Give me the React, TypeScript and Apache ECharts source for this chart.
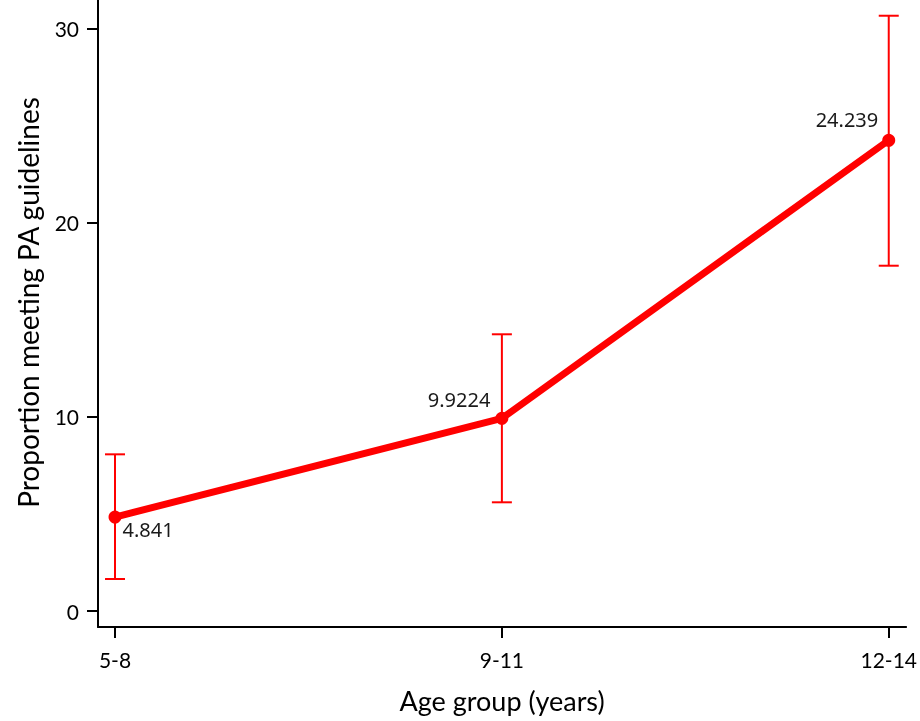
import React, { useEffect, useRef } from "react";
import * as echarts from "echarts";

const categories = ["5-8", "9-11", "12-14"];
const means = [4.841, 9.9224, 24.239];
const lowerCI = [1.65, 5.6, 17.78];
const upperCI = [8.07, 14.25, 30.65];
const yTicks = [0, 10, 20, 30];
const labelTexts = ["4.841", "9.9224", "24.239"];

const RED = "#ff0000";
const FONT = "Lato";

export default function App() {
  const ref = useRef<HTMLDivElement>(null);
  useEffect(() => {
    if (!ref.current) return;
    const chart = echarts.init(ref.current, null, { renderer: "svg" });
    const idx = categories.map((_, i) => i);
    const labelPlacement = [
      { position: "right", offset: [-4, 12] },
      { position: "left", offset: [0, -19] },
      { position: "left", offset: [1, -21] },
    ];
    chart.setOption({
      animation: false,
      grid: { left: 98, right: 13, top: 0, bottom: 94, containLabel: false },
      xAxis: {
        type: "value",
        min: -0.044,
        max: 2.045,
        name: "Age group (years)",
        nameLocation: "middle",
        nameGap: 60,
        nameTextStyle: { fontFamily: FONT, fontSize: 27, color: "#000" },
        axisLine: { show: true, onZero: false, lineStyle: { color: "#000", width: 2 } },
        axisTick: { show: true, customValues: idx, length: 11, lineStyle: { color: "#000", width: 2 } },
        axisLabel: {
          customValues: idx,
          formatter: (v: number) => categories[Math.round(v)] ?? "",
          fontFamily: FONT,
          fontSize: 21,
          color: "#000",
          margin: 22,
        },
        splitLine: { show: false },
      },
      yAxis: {
        type: "value",
        min: -0.82,
        max: 31.46,
        name: "Proportion meeting PA guidelines",
        nameLocation: "middle",
        nameGap: 56,
        nameTextStyle: { fontFamily: FONT, fontSize: 28, color: "#000", padding: [0, 0, 0, 22] },
        axisLine: { show: true, onZero: false, lineStyle: { color: "#000", width: 2 } },
        axisTick: { show: true, customValues: yTicks, length: 11, lineStyle: { color: "#000", width: 2 } },
        axisLabel: {
          customValues: yTicks,
          fontFamily: FONT,
          fontSize: 21,
          color: "#000",
          margin: 19,
        },
        splitLine: { show: false },
      },
      series: [
        {
          type: "custom",
          z: 1,
          data: idx.map((i) => [i, lowerCI[i], upperCI[i]]),
          renderItem: (params: any, api: any) => {
            const x = api.value(0);
            const lo = api.coord([x, api.value(1)]);
            const hi = api.coord([x, api.value(2)]);
            const half = 10;
            const style = { stroke: RED, lineWidth: 2 };
            return {
              type: "group",
              children: [
                { type: "line", shape: { x1: lo[0], y1: lo[1], x2: hi[0], y2: hi[1] }, style },
                { type: "line", shape: { x1: hi[0] - half, y1: hi[1], x2: hi[0] + half, y2: hi[1] }, style },
                { type: "line", shape: { x1: lo[0] - half, y1: lo[1], x2: lo[0] + half, y2: lo[1] }, style },
              ],
            };
          },
        },
        {
          type: "line",
          z: 2,
          data: idx.map((i) => ({
            value: [i, means[i]],
            label: {
              show: true,
              formatter: labelTexts[i],
              position: labelPlacement[i].position,
              offset: labelPlacement[i].offset,
              fontFamily: "Noto Sans",
              fontSize: 20,
              color: "#1a1a1a",
            },
          })),
          lineStyle: { color: RED, width: 7 },
          itemStyle: { color: RED },
          symbol: "circle",
          symbolSize: 13,
        },
      ],
    });
    return () => chart.dispose();
  }, []);
  return (
    <div
      ref={ref}
      style={{ position: "fixed", left: 0, top: 0, width: 920, height: 721 }}
    />
  );
}
